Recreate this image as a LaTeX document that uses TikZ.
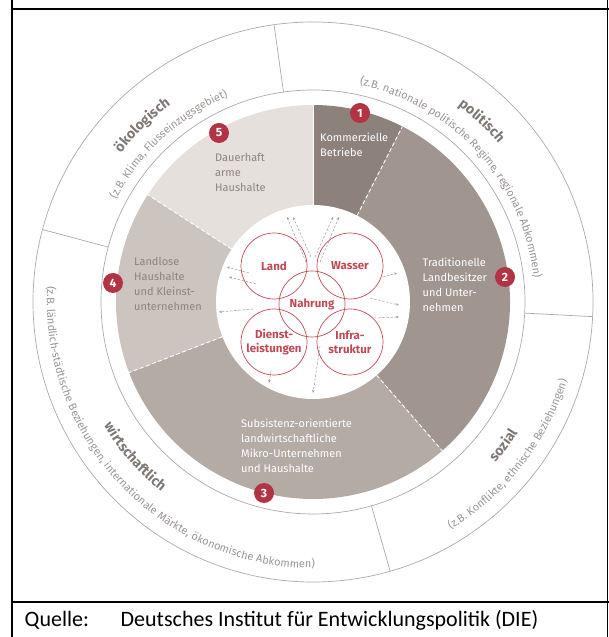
\documentclass[tikz,border=0pt]{standalone}
\usepackage{fontspec}
\setmainfont{Carlito}
\newfontfamily\metafont{Fira Sans}
\usetikzlibrary{arrows.meta,decorations.text}
\definecolor{segone}{HTML}{8D817B}
\definecolor{segtwo}{HTML}{A0968F}
\definecolor{segthree}{HTML}{B4ABA5}
\definecolor{segfour}{HTML}{CCC4BE}
\definecolor{segfive}{HTML}{E6E0DC}
\definecolor{segtext}{HTML}{8E847E}
\definecolor{badgered}{HTML}{B23444}
\definecolor{foodred}{HTML}{BF4A55}
\definecolor{ringline}{HTML}{AAAAAA}
\definecolor{ringtitle}{HTML}{7E7773}
\definecolor{ringsub}{HTML}{9B9592}
\definecolor{flowgray}{HTML}{9C9C9C}
\tikzstyle{badge}=[shape=circle, minimum size=20pt, inner sep=0, fill=badgered, text=white, font=\metafont\bfseries\fontsize{12}{12}\selectfont]
\tikzstyle{food}=[shape=circle, minimum size=66pt, inner sep=0, draw=foodred, line width=.7pt, text=foodred, align=center, font=\metafont\bfseries\fontsize{11.5}{13.5}\selectfont]
\tikzstyle{segtxt}=[anchor=north west, align=left, inner sep=0, font=\metafont\fontsize{11}{15}\selectfont]
\tikzstyle{flow}=[draw=flowgray, line width=.5pt, dash pattern=on 2.5pt off 1.6pt, -{Stealth[length=3pt, width=2.5pt]}]
\tikzstyle{ring}=[draw=ringline, line width=.7pt]
\tikzstyle{segcut}=[draw=white, line width=.9pt, dash pattern=on 4pt off 2.5pt]
\tikzstyle{boxline}=[line width=1.8pt]
\tikzstyle{source}=[anchor=base west, inner sep=0, font=\fontsize{22}{22}\selectfont]
\newcommand{\titlefmt}{\metafont\bfseries\fontsize{14}{14}\selectfont\color{ringtitle}}
\newcommand{\subfmt}{\metafont\fontsize{11}{11}\selectfont\color{ringsub}}

\begin{document}
\begin{tikzpicture}[x=1pt, y=1pt]
\useasboundingbox (0,0) rectangle (609,637);
\coordinate (C) at (313,335);
\begin{scope}[shift={(C)}]
% outer band
\draw[ring] (0,0) circle[radius=280];
\draw[ring] (0,0) circle[radius=212];
\foreach \a in {98,165,-3,-74} {\draw[ring] (\a:212)--(\a:280);}
% segments
\fill[segone] (0,0)--(63:197) arc[start angle=63, end angle=90, radius=197]--cycle;
\fill[segtwo] (0,0)--(-49:197) arc[start angle=-49, end angle=63, radius=197]--cycle;
\fill[segthree] (0,0)--(201:197) arc[start angle=201, end angle=311, radius=197]--cycle;
\fill[segfour] (0,0)--(147:197) arc[start angle=147, end angle=201, radius=197]--cycle;
\fill[segfive] (0,0)--(90:197) arc[start angle=90, end angle=147, radius=197]--cycle;
\fill[white] (0,0) circle[radius=97];
\foreach \a in {63,-49,201,147} {\draw[segcut] (\a:97)--(\a:197);}
\draw[white, line width=.8pt] (90:97)--(90:197);
% band labels
\path[decorate, decoration={text along path, text align=center, text={|\titlefmt|ökologisch}}] (160:243) arc[start angle=160, end angle=108, radius=243];
\path[decorate, decoration={text along path, text align=center, text={|\subfmt|(z.B. Klima, Flusseinzugsgebiet)}}] (170:222) arc[start angle=170, end angle=95, radius=222];
\path[decorate, decoration={text along path, text align=center, text={|\titlefmt|politisch}}] (75:244) arc[start angle=75, end angle=19, radius=244];
\path[decorate, decoration={text along path, text align=center, text={|\subfmt|(z.B. nationale politische Regime, regionale Abkommen)}}] (92:222) arc[start angle=92, end angle=-8, radius=222];
\path[decorate, decoration={text along path, text align=center, text={|\titlefmt|sozial}}] (-60:243) arc[start angle=-60, end angle=-14, radius=243];
\path[decorate, decoration={text along path, text align=center, text={|\subfmt|(z.B. Konflikte, ethnische Beziehungen)}}] (-75:266) arc[start angle=-75, end angle=-1, radius=266];
\path[decorate, decoration={text along path, text align=center, text={|\titlefmt|wirtschaftlich}}] (190:243) arc[start angle=190, end angle=252, radius=243];
\path[decorate, decoration={text along path, text align=center, text={|\subfmt|(z.B. ländlich-städtische Beziehungen, internationale Märkte, ökonomische Abkommen)}}] (160:266) arc[start angle=160, end angle=287, radius=266];
\end{scope}
% resources
\node at (274,371)[food](land){Land};
\node at (350,371)[food](wasser){Wasser};
\node at (312,333)[food](nahrung){Nahrung};
\node at (274,295)[food](dienst){Dienst-\\leistungen};
\node at (350,295)[food](infra){Infra-\\struktur};
% flows
\coordinate (ft1a) at (306,375); \coordinate (ft1b) at (287,420);
\coordinate (ft2a) at (311,380); \coordinate (ft2b) at (293,420);
\coordinate (ft3a) at (315,380); \coordinate (ft3b) at (333,420);
\coordinate (ft4a) at (320,375); \coordinate (ft4b) at (339,420);
\coordinate (fl1a) at (249,364); \coordinate (fl1b) at (227,370);
\coordinate (fl2a) at (256,353); \coordinate (fl2b) at (229,360);
\coordinate (fl3a) at (253,328); \coordinate (fl3b) at (219,325);
\coordinate (fr1a) at (383,360); \coordinate (fr1b) at (397,364);
\coordinate (fr2a) at (370,339); \coordinate (fr2b) at (399,332);
\coordinate (fr3a) at (374,319); \coordinate (fr3b) at (399,320);
\coordinate (fb1a) at (271,266); \coordinate (fb1b) at (269,254);
\coordinate (fb2a) at (320,291); \coordinate (fb2b) at (313,244);
\foreach \f in {ft1,ft2,ft3,ft4,fl1,fl2,fl3,fr1,fr2,fr3,fb1,fb2} {\draw[flow] (\f a)--(\f b);}
% groups
\node at (320,504.7)[segtxt, text=white](g1){Kommerzielle\\Betriebe};
\node at (422.5,379.7)[segtxt, text=white](g2){Traditionelle\\Landbesitzer\\und Unter-\\nehmen};
\node at (241,218.4)[segtxt, text=white](g3){Subsistenz-orientierte\\landwirtschaftliche\\Mikro-Unternehmen\\und Haushalte};
\node at (134,379.7)[segtxt, text=segtext](g4){Landlose\\Haushalte\\und Kleinst-\\unternehmen};
\node at (215,483.7)[segtxt, text=segtext](g5){Dauerhaft\\arme\\Haushalte};
\node at (360,524)[badge](b1){1};
\node at (505,360)[badge](b2){2};
\node at (264,144)[badge](b3){3};
\node at (113,354)[badge](b4){4};
\node at (219,504)[badge](b5){5};
% frame
\draw[boxline] (12,637)--(12,0);
\draw[boxline] (607.5,637)--(607.5,0);
\draw[boxline] (12,628)--(609,628);
\draw[boxline] (12,35)--(609,35);
\node at (24.5,10)[source](src){Quelle:};
\node at (120.5,10)[source](die){Deutsches Institut für Entwicklungspolitik (DIE)};
\end{tikzpicture}
\end{document}
